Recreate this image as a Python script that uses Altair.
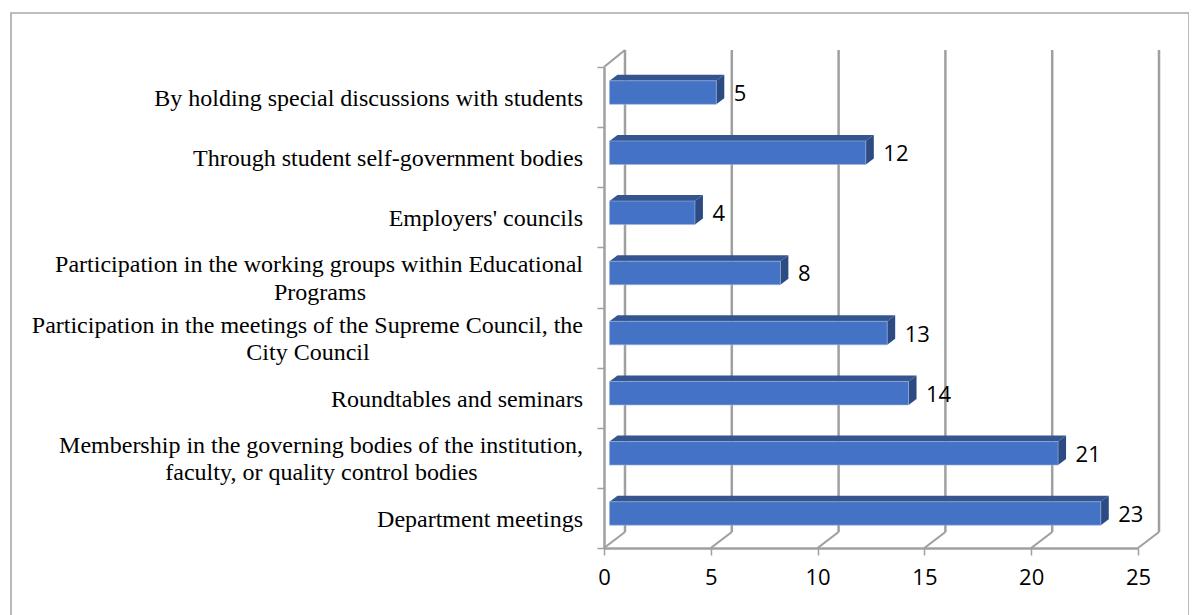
import altair as alt
import pandas as pd

categories = [
    "Department meetings",
    "Membership in the governing bodies of the institution,",
    "Roundtables and seminars",
    "Participation in the meetings of the Supreme Council, the",
    "Participation in the working groups within Educational",
    "Employers' councils",
    "Through student self-government bodies",
    "By holding special discussions with students",
]
second_lines = ["", "faculty, or quality control bodies", "", "City Council", "Programs", "", "", ""]
values = [23, 21, 14, 13, 8, 4, 12, 5]
x_ticks = [0, 5, 10, 15, 20, 25]

# Layout constants (pixels of the plot area)
W, H = 534, 481
PX_X, PX_Y = W / 25, H / 8
DEPTH_X, DEPTH_Y = 8, 6
WALL_X, WALL_Y = 21, 16
BAR_SHIFT = 5.5
GREY = "#a0a0a0"
SERIF = "Liberation Serif"
SANS = "Open Sans"

rows = []
side, top = [], []
for i, (c, s, v) in enumerate(zip(categories, second_lines, values)):
    y_mid = i + 0.5 + 4.5 / PX_Y
    y0, y1 = y_mid - 11.75 / PX_Y, y_mid + 11.75 / PX_Y
    rows.append(dict(cat=c, second=s, value=v, zero=0, rank=i + 0.5, y0=y0, y1=y1))
    dx, dy = DEPTH_X / PX_X, DEPTH_Y / PX_Y
    side += [dict(cat=c, x=v, y=y0, y2=y1), dict(cat=c, x=v + dx, y=y0 + dy, y2=y1 + dy)]
    top += [dict(cat=c, y=y1, x=0, x2=v), dict(cat=c, y=y1 + dy, x=dx, x2=v + dx)]
df = pd.DataFrame(rows)
df_side = pd.DataFrame(side)
df_top = pd.DataFrame(top)
df_ticks = pd.DataFrame({"tick": x_ticks})

xs = alt.Scale(domain=[0, 25], nice=False)
ys = alt.Scale(domain=[0, 8], nice=False)
X = lambda f: alt.X(f, type="quantitative", scale=xs, title=None)
Y = lambda f: alt.Y(f, type="quantitative", scale=ys, title=None)

frame = alt.Chart(pd.DataFrame({"a": [0]})).mark_rect(
    fillOpacity=0, stroke="#a8a8a8", strokeWidth=1.6
).encode(
    x=alt.value(-593), x2=alt.value(585), y=alt.value(-54), y2=alt.value(600)
)

floor = alt.Chart(df_ticks).mark_rule(color=GREY, strokeWidth=2.2, x2Offset=WALL_X).encode(
    x=alt.X("tick:Q", scale=xs, title=None,
            axis=alt.Axis(values=x_ticks, grid=False, domainColor=GREY, domainWidth=2.5,
                          tickColor=GREY, tickWidth=1.5, tickSize=7, labelPadding=12,
                          labelFont=SANS, labelFontSize=22, labelColor="#000000",
                          labelFlush=False)),
    x2="tick:Q",
    y=alt.value(H), y2=alt.value(H - WALL_Y),
)
back = alt.Chart(df_ticks).mark_rule(color=GREY, strokeWidth=2.5, xOffset=WALL_X).encode(
    x=X("tick"), y=alt.value(H - WALL_Y), y2=alt.value(-WALL_Y - 1),
)
corner = alt.Chart(pd.DataFrame({"tick": [0]})).mark_rule(
    color=GREY, strokeWidth=2.2, x2Offset=WALL_X
).encode(x=X("tick"), x2="tick:Q", y=alt.value(0), y2=alt.value(-WALL_Y - 1))

yaxis = alt.Chart(pd.DataFrame({"r": list(range(9))})).mark_tick(opacity=0).encode(
    y=alt.Y("r:Q", scale=ys, title=None,
            axis=alt.Axis(values=list(range(9)), labels=False, grid=False, domainColor=GREY,
                          domainWidth=2.5, tickColor=GREY, tickWidth=1.5, tickSize=7)),
)

top_face = alt.Chart(df_top).mark_area(
    orient="horizontal", color="#34558f", xOffset=BAR_SHIFT, x2Offset=BAR_SHIFT
).encode(x=X("x"), x2="x2:Q", y=Y("y"), detail="cat:N")
side_face = alt.Chart(df_side).mark_area(
    orient="vertical", color="#2c4b82", xOffset=BAR_SHIFT, x2Offset=BAR_SHIFT
).encode(x=X("x"), y=Y("y"), y2="y2:Q", detail="cat:N")
front = alt.Chart(df).mark_bar(
    color="#4472c4", stroke="#9db4e0", strokeWidth=0.6, xOffset=BAR_SHIFT, x2Offset=BAR_SHIFT
).encode(x=X("value"), x2="zero:Q", y=Y("y0"), y2="y1:Q")

value_labels = alt.Chart(df).mark_text(
    align="left", baseline="middle", font=SANS, fontSize=22, color="#000000", dx=23, dy=-3
).encode(x=X("value"), y=Y("rank"), text="value:Q")

one_line = df[df["second"] == ""]
two_line = df[df["second"] != ""]
label_style = dict(baseline="middle", font=SERIF, fontSize=24, color="#000000")
labels1 = alt.Chart(one_line).mark_text(align="right", dy=2, **label_style).encode(
    x=alt.value(-21), y=Y("rank"), text="cat:N")
labels2 = alt.Chart(two_line).mark_text(align="right", dy=-12, **label_style).encode(
    x=alt.value(-21), y=Y("rank"), text="cat:N")
wrap_layers = [
    alt.Chart(two_line[two_line["second"] == s]).mark_text(align="center", dy=15.5, **label_style).encode(
        x=alt.value(px), y=Y("rank"), text="second:N")
    for s, px in [("faculty, or quality control bodies", -282.5),
                  ("City Council", -296),
                  ("Programs", -284)]
]

chart = alt.layer(
    frame, back, floor, corner, yaxis, top_face, side_face, front, value_labels,
    labels1, labels2, *wrap_layers
).properties(
    width=W, height=H,
    autosize=alt.AutoSizeParams(type="none"),
    padding={"left": 596, "top": 59, "right": 51, "bottom": 67},
    background="#ffffff",
).configure_view(stroke=None)

chart.save("out.html", embed_options={"renderer": "svg", "actions": False})
